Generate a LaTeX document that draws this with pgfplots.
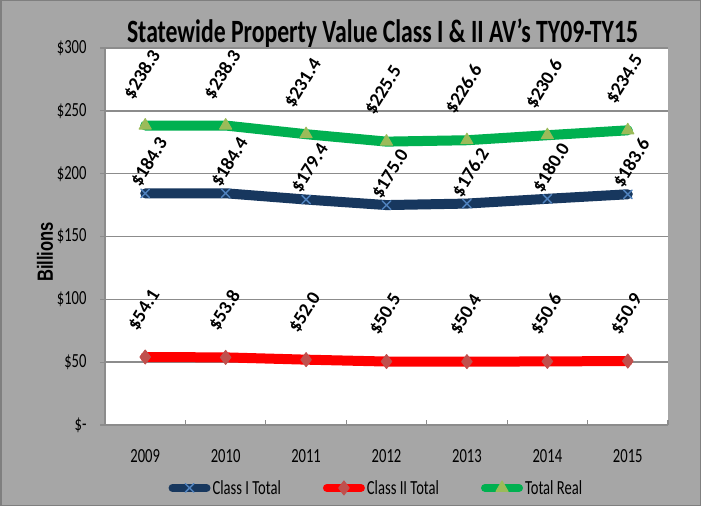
\documentclass[border=0pt]{standalone}
\usepackage{fontspec}
\setmainfont{Carlito}[FakeStretch=0.73]
\newfontfamily\lblfont{Carlito}
\newfontfamily\billfont{Liberation Sans}[FakeStretch=0.75]
\usepackage{pgfplots}
\pgfplotsset{compat=1.18}
\definecolor{bggray}{HTML}{A6A6A6}
\definecolor{bordergray}{HTML}{7F7F7F}
\definecolor{axgray}{HTML}{8C8C8C}
\definecolor{gridgray}{HTML}{8C8C8C}
\definecolor{navy}{HTML}{17375E}
\definecolor{xblue}{HTML}{4F81BD}
\definecolor{redline}{HTML}{FF0000}
\definecolor{dmred}{HTML}{C0504D}
\definecolor{greenline}{HTML}{00B050}
\definecolor{trigreen}{HTML}{9BBB59}
\begin{document}
\begin{tikzpicture}[x=1pt,y=1pt]
\fill[bggray] (0,0) rectangle (701,506);
\draw[bordergray, line width=1.5pt] (0.75,0.75) rectangle (700.25,505.25);
\useasboundingbox (0,0) rectangle (701,506);
\node[anchor=base, font=\bfseries\fontsize{32.5}{36}\selectfont] at (382.5,463) {Statewide Property Value Class I \& II AV's TY09-TY15};
\node[rotate=90, font=\billfont\bfseries\fontsize{22}{26}\selectfont] at (45,254) {Billions};
\begin{axis}[
  at={(105pt,81pt)}, anchor=south west,
  scale only axis, width=563pt, height=377pt,
  xmin=-0.5, xmax=6.5, ymin=0, ymax=300,
  axis background/.style={fill=white},
  axis x line*=bottom, axis y line*=left,
  axis line style={draw=axgray, line width=1.2pt, -},
  ytick={0,50,...,300},
  yticklabels={\$-,\$50,\$100,\$150,\$200,\$250,\$300},
  ymajorgrids,
  major grid style={draw=gridgray, line width=1.5pt},
  tick align=inside, major tick length=5pt,
  ytick style={draw=axgray, line width=1.2pt, xshift=-5pt},
  xtick={-0.5,0.5,...,6.5}, xticklabel={\mbox{}},
  xtick style={draw=axgray, line width=1.2pt},
  extra x ticks={0,1,2,3,4,5,6},
  extra x tick labels={2009,2010,2011,2012,2013,2014,2015},
  extra x tick style={major tick length=0pt, grid=none},
  xticklabel style={yshift=-21pt},
  yticklabel style={xshift=-15pt},
  tick label style={font=\fontsize{20}{24}\selectfont, text=black},
  clip=false,
  legend style={at={(0.482,-0.167)}, anchor=center, draw=none, fill=none,
    font=\fontsize{20}{24}\selectfont,
    /tikz/every even column/.append style={column sep=40pt}},
  legend columns=3,
  legend image code/.code={\draw[#1, line width=8pt, line cap=round, mark repeat=2, mark phase=2] plot coordinates {(0pt,0pt) (17pt,0pt) (34pt,0pt)};},
  point meta=explicit symbolic, nodes near coords,
  every node near coord/.append style={font=\lblfont\bfseries\fontsize{19}{22}\selectfont, anchor=center, text=black, inner sep=0pt},
]
\addplot[color=navy, line width=10pt, line cap=round, line join=round,
  mark=x, mark options={draw=xblue, line width=1.5pt, mark size=6pt},
  every node near coord/.append style={xshift=4pt, yshift=31pt, rotate=58}]
  coordinates {(0,184.3)[\$184.3] (1,184.4)[\$184.4] (2,179.4)[\$179.4] (3,175.0)[\$175.0] (4,176.2)[\$176.2] (5,180.0)[\$180.0] (6,183.6)[\$183.6]};
\addlegendentry{Class I Total}
\addplot[color=redline, line width=10pt, line cap=round, line join=round,
  mark=diamond*, mark options={draw=dmred, fill=dmred, line width=1pt, mark size=7pt},
  every node near coord/.append style={xshift=-1pt, yshift=47pt, rotate=58}]
  coordinates {(0,54.1)[\$54.1] (1,53.8)[\$53.8] (2,52.0)[\$52.0] (3,50.5)[\$50.5] (4,50.4)[\$50.4] (5,50.6)[\$50.6] (6,50.9)[\$50.9]};
\addlegendentry{Class II Total}
\addplot[color=greenline, line width=10pt, line cap=round, line join=round,
  mark=triangle*, mark options={draw=trigreen, fill=trigreen, line width=1pt, mark size=7pt},
  every node near coord/.append style={xshift=-3pt, yshift=51pt, rotate=58}]
  coordinates {(0,238.3)[\$238.3] (1,238.3)[\$238.3] (2,231.4)[\$231.4] (3,225.5)[\$225.5] (4,226.6)[\$226.6] (5,230.6)[\$230.6] (6,234.5)[\$234.5]};
\addlegendentry{Total Real}
\end{axis}
\end{tikzpicture}
\end{document}
